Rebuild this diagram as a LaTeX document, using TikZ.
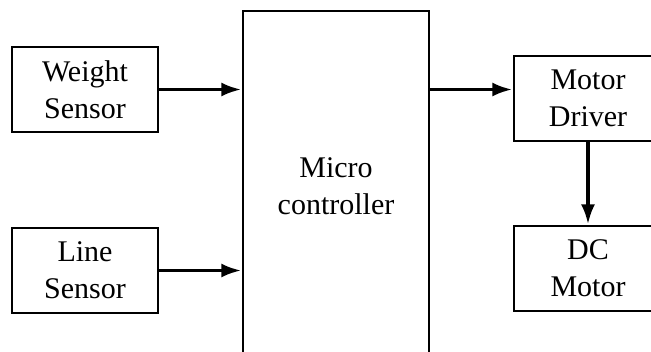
\documentclass[tikz,border=0pt]{standalone}
\usepackage{fontspec}
\setmainfont{Liberation Serif}
\usetikzlibrary{arrows.meta}
\begin{document}
\begin{tikzpicture}[x=1pt,y=-1pt,
  blk/.style={draw,line width=1.6pt,align=center,inner sep=0pt,
    font=\fontsize{30}{37}\selectfont},
  sig/.style={-{Latex[length=20pt,width=14pt]},line width=3.6pt,shorten >=0.8pt}]
\useasboundingbox (0,0) rectangle (651,351);
\node[blk,minimum width=146pt,minimum height=85pt] (ws)at(85,89.5){Weight\\Sensor};
\node[blk,minimum width=146pt,minimum height=85pt] (ls)at(85,270.5){Line\\Sensor};
\node[blk,minimum width=186pt,minimum height=350pt] (mc)at(336,186){Micro\\controller};
\node[blk,minimum width=148pt,minimum height=85pt] (md)at(588,98.5){Motor\\Driver};
\node[blk,minimum width=148pt,minimum height=85pt] (dc)at(588,268.5){DC\\Motor};
\draw[sig] (ws.east) -- (ws.east -| mc.west);
\draw[sig] (ls.east) -- (ls.east -| mc.west);
\draw[sig] (mc.east |- ws.east) -- (md.west |- ws.east);
\draw[sig] (md.south) -- (dc.north);
\end{tikzpicture}
\end{document}
